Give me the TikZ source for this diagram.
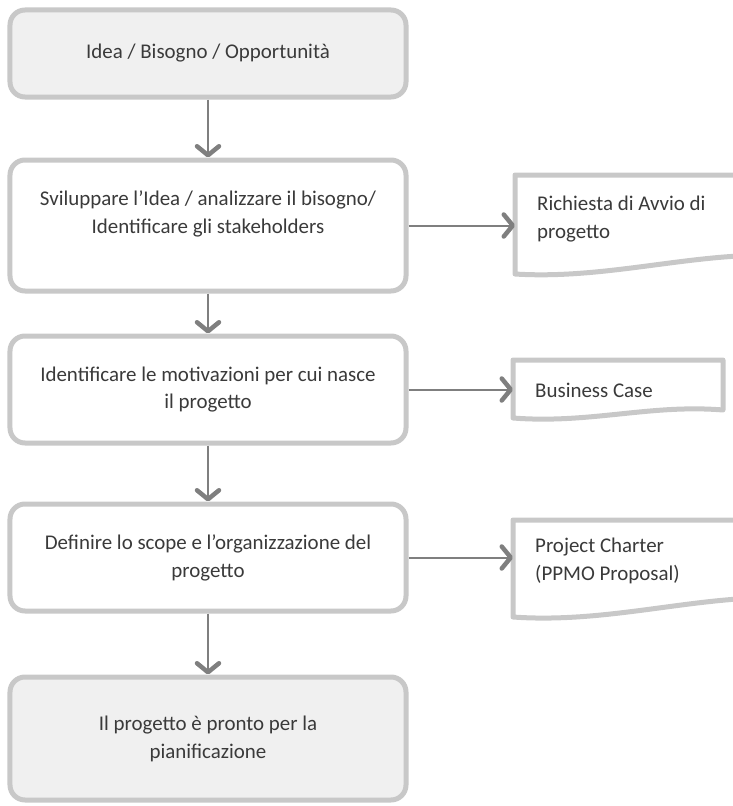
\documentclass[tikz,border=0pt]{standalone}
\usepackage{fontspec}
\setmainfont{Carlito}
\usetikzlibrary{arrows.meta}

\definecolor{boxline}{HTML}{C8C8C8}
\definecolor{boxfill}{HTML}{F0F0F0}
\definecolor{arrowgray}{HTML}{7F7F7F}
\definecolor{textgray}{HTML}{3A3A3A}

\begin{document}
\begin{tikzpicture}[x=1bp,y=-1bp,
    font=\fontsize{21}{28}\selectfont,text=textgray,
    stepbox/.style={draw=boxline,line width=5bp,rounded corners=15bp,fill=white,
      minimum width=396bp,align=center},
    endbox/.style={stepbox,fill=boxfill},
    doc/.style={anchor=west,align=left,inner xsep=22bp,inner ysep=0pt},
    docline/.style={draw=boxline,line width=5bp,line join=round,fill=white},
    flow/.style={color=arrowgray,line width=2bp,
      -{Straight Barb[length=9bp,width=22bp,line width=4.5bp,round]}}]
  \useasboundingbox (0,0) rectangle (733,806);
  \clip (0,0) rectangle (733,806);

  \node[endbox,minimum height=87bp] (b1) at (208,53.5) {Idea / Bisogno / Opportunità};
  \node[stepbox,minimum height=131bp,text depth=27bp] (b2) at (208,225.5)
    {Sviluppare l’Idea / analizzare il bisogno/\\Identificare gli stakeholders};
  \node[stepbox,minimum height=107bp] (b3) at (208,389.5)
    {Identificare le motivazioni per cui nasce\\il progetto};
  \node[stepbox,minimum height=107bp] (b4) at (208,557.5)
    {Definire lo scope e l’organizzazione del\\progetto};
  \node[endbox,minimum height=123bp] (b5) at (208,738.5)
    {Il progetto è pronto per la\\pianificazione};

  % documents
  \draw[docline] (515,175) -- (790,175) -- (790,256)
    .. controls (700,250) and (610,280) .. (515,274) -- cycle;
  \node[doc] (d1) at (515,219) {Richiesta di Avvio di\\progetto};
  \draw[docline] (513,360) -- (723,360) -- (723,410)
    .. controls (650,404) and (590,424) .. (513,418) -- cycle;
  \node[doc] (d2) at (513,390) {Business Case};
  \draw[docline] (513,520) -- (790,520) -- (790,598)
    .. controls (700,594) and (610,624) .. (513,617) -- cycle;
  \node[doc] (d3) at (513,561) {Project Charter\\(PPMO Proposal)};

  \path[flow]
    (b1) edge (b2)
    (b2) edge (b3)
    (b3) edge (b4)
    (b4) edge (b5)
    (b2.east) edge (b2.east -| d1.west)
    (b3.east) edge (b3.east -| d2.west)
    (b4.east) edge (b4.east -| d3.west);
\end{tikzpicture}
\end{document}
